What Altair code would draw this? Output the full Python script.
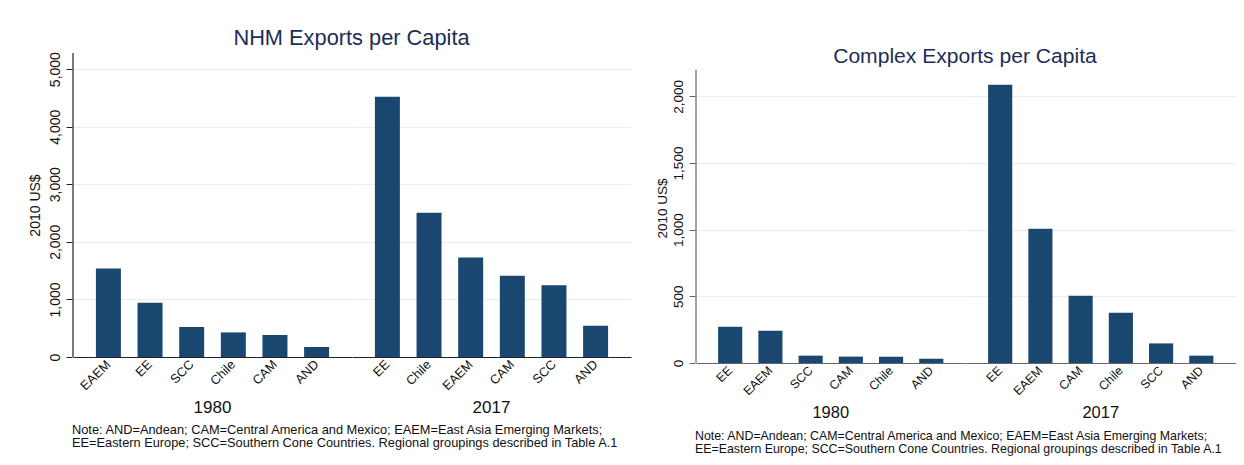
import altair as alt
import pandas as pd

# ---------------- data ----------------
years = ["1980", "2017"]

nhm_1980_regions = ["EAEM", "EE", "SCC", "Chile", "CAM", "AND"]
nhm_1980_values = [1538, 943, 521, 427, 382, 174]
nhm_2017_regions = ["EE", "Chile", "EAEM", "CAM", "SCC", "AND"]
nhm_2017_values = [4519, 2505, 1729, 1411, 1245, 543]

cx_1980_regions = ["EE", "EAEM", "SCC", "CAM", "Chile", "AND"]
cx_1980_values = [272, 242, 55, 48, 47, 32]
cx_2017_regions = ["EE", "EAEM", "CAM", "Chile", "SCC", "AND"]
cx_2017_values = [2087, 1007, 505, 377, 147, 55]

nhm_ticks = [0, 1000, 2000, 3000, 4000, 5000]
cx_ticks = [0, 500, 1000, 1500, 2000]

# top of each y-axis line (data units)
nhm_axis_top = 5280
cx_axis_top = 2200

note_lines = [
    "Note: AND=Andean; CAM=Central America and Mexico; EAEM=East Asia Emerging Markets;",
    "EE=Eastern Europe; SCC=Southern Cone Countries. Regional groupings described in Table A.1",
]

FONT = "Liberation Sans"
BAR = "#1a476f"
TITLE_COLOR = "#1c2e55"
GRID = "#e6eef1"


def build_df(ra, va, rb, vb):
    rows = []
    for i, (r, v) in enumerate(zip(ra, va)):
        rows.append({"year": years[0], "region": r, "value": v, "order": i})
    for i, (r, v) in enumerate(zip(rb, vb)):
        rows.append({"year": years[1], "region": r, "value": v, "order": i})
    return pd.DataFrame(rows)


def panel(df, title, axis_top, scale_top, ticks, w, h, s, axis_color, dx, dy,
          ytitle_pad, label_pad):
    bars = alt.Chart().mark_bar(color=BAR).encode(
        x=alt.X(
            "region:N",
            sort=alt.EncodingSortField(field="order", op="min"),
            scale=alt.Scale(paddingInner=0.4, paddingOuter=0.55),
            axis=alt.Axis(
                title=None,
                labelAngle=315,
                labelAlign="right",
                labelBaseline="middle",
                labelFont=FONT,
                labelFontSize=12.8 * s,
                labelColor="#111111",
                labelPadding=5,
                ticks=False,
                domainColor=axis_color,
                domainWidth=1.2,
                grid=False,
            ),
        ),
        y=alt.Y(
            "value:Q",
            scale=alt.Scale(domain=[0, scale_top], nice=False, zero=True),
            axis=alt.Axis(
                values=ticks,
                format=",.0f",
                labelAngle=270,
                labelAlign="center",
                labelBaseline="bottom",
                labelFont=FONT,
                labelFontSize=14 * s,
                labelColor="#111111",
                labelPadding=4,
                labelOverlap=False,
                tickSize=6,
                tickColor=axis_color,
                domain=False,
                gridColor=GRID,
                gridWidth=1,
                title="2010 US$",
                titleFont=FONT,
                titleFontSize=14 * s,
                titleFontWeight="normal",
                titleColor="#111111",
                titlePadding=ytitle_pad,
            ),
        ),
    )

    yline = alt.Chart().transform_filter(
        (alt.datum.year == years[0]) & (alt.datum.order == 0)
    ).mark_rule(color=axis_color, strokeWidth=1.2).encode(
        x=alt.value(0),
        y=alt.datum(0),
        y2=alt.datum(axis_top),
    )

    layered = alt.layer(bars, yline, data=df).properties(width=w, height=h)

    return layered.facet(
        column=alt.Column(
            "year:N",
            title=note_lines,
            header=alt.Header(
                labelOrient="bottom",
                labelFont=FONT,
                labelFontSize=17 * s,
                labelColor="#111111",
                labelPadding=label_pad,
                titleOrient="bottom",
                titleFont=FONT,
                titleFontSize=12.8 * s,
                titleFontWeight="normal",
                titleColor="#111111",
                titleAnchor="start",
                titleAlign="left",
                titleLineHeight=13,
                titlePadding=-2,
            ),
        ),
        spacing=0,
        title=alt.TitleParams(
            text=title,
            font=FONT,
            fontSize=21.8 * s,
            fontWeight="normal",
            color=TITLE_COLOR,
            anchor="middle",
            frame="bounds",
            dx=dx,
            dy=dy,
            offset=2,
        ),
    ).resolve_scale(x="independent")


left = panel(
    build_df(nhm_1980_regions, nhm_1980_values, nhm_2017_regions, nhm_2017_values),
    "NHM Exports per Capita", nhm_axis_top, nhm_axis_top, nhm_ticks,
    279, 304, 1.0, "#222222", 22, 0, 6, 7,
)
right = panel(
    build_df(cx_1980_regions, cx_1980_values, cx_2017_regions, cx_2017_values),
    "Complex Exports per Capita", cx_axis_top, 2325, cx_ticks,
    269.5, 310, 0.967, "#666666", 19.7, 15.7, 2, 7,
)

chart = alt.hconcat(left, right, spacing=24).properties(
    padding={"left": 19, "top": 19, "right": 0, "bottom": 0},
    background="white",
).configure_view(strokeWidth=0)

chart.save("out.html", embed_options={"renderer": "svg", "actions": False})
